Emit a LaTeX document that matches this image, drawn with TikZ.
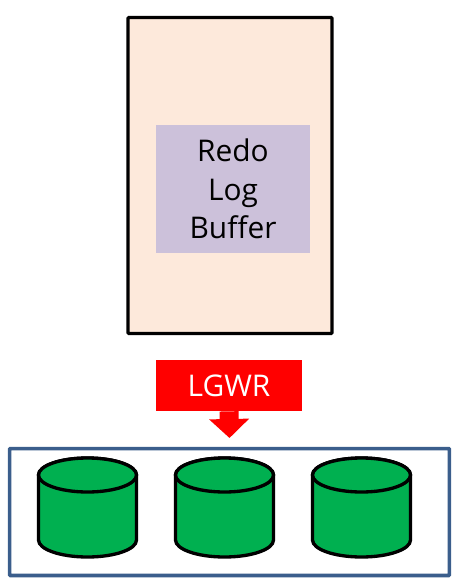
\documentclass[tikz,border=0pt]{standalone}
\usepackage{fontspec}
\setmainfont{Open Sans}
\usepackage{tikz}
\usetikzlibrary{positioning}
\usetikzlibrary{arrows.meta}
\definecolor{sgaFill}{RGB}{253,233,219}
\definecolor{bufferFill}{RGB}{204,193,218}
\definecolor{diskFill}{RGB}{0,176,80}
\definecolor{diskFrame}{RGB}{59,94,140}
\tikzset{
    sgabox/.style={draw=black, line width=1.9pt, fill=sgaFill, minimum width=4.08cm, minimum height=6.32cm, rounded corners=0.5pt},
    bufferbox/.style={fill=bufferFill, minimum width=3.08cm, minimum height=2.56cm, align=center, font=\fontsize{17}{21}\selectfont},
    writerbox/.style={fill=red, text=white, minimum width=2.92cm, minimum height=1.02cm, font=\fontsize{17}{21}\selectfont},
    diskframe/.style={draw=diskFrame, line width=2pt, minimum width=8.8cm, minimum height=2.54cm, rounded corners=0.5pt},
    disk/.style={draw=black, line width=1.9pt, fill=diskFill, line join=round}
}
\begin{document}
\begin{tikzpicture}[x=0.02cm, y=-0.02cm]
    \useasboundingbox (0,0) rectangle (464,587);

    % Memoria
    \node[sgabox] (sga) at (230,175.5) {};
    \node[bufferbox] (buffer) at (233,189) {Redo\\[1pt]Log\\[0.8pt]Buffer};

    % Proceso de escritura
    \node[writerbox] (lgwr) at (229,385.5) {LGWR};
    \coordinate (tip) at (229.5,438);
    \draw[red, line width=0.38cm, -{Triangle[length=0.38cm, width=0.78cm]}] (lgwr.south) -- (tip);

    % Discos
    \node[diskframe] (frame) at (229.5,512) {};
    \foreach \x in {87.5, 224.5, 361.5} {
        \draw[disk] (\x-49,475) -- (\x-49,540) arc[start angle=180, end angle=0, x radius=49, y radius=17]
            -- (\x+49,475) arc[start angle=0, end angle=-180, x radius=49, y radius=17] -- cycle;
        \draw[disk] (\x,475) ellipse[x radius=49, y radius=17];
    }
\end{tikzpicture}
\end{document}
